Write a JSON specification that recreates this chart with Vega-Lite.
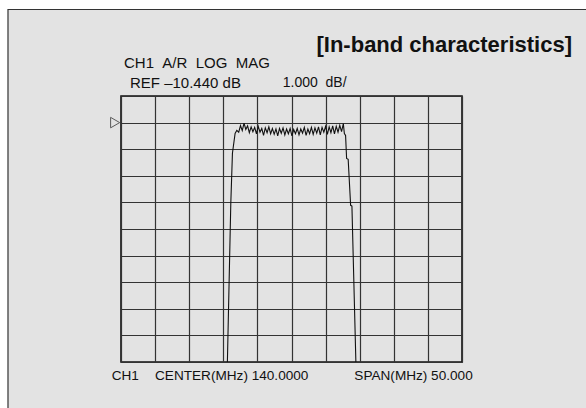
{
  "$schema": "https://vega.github.io/schema/vega-lite/v6.json",
  "width": 341,
  "height": 266,
  "autosize": {"type": "none"},
  "padding": {"left": 121, "top": 96, "right": 124, "bottom": 46},
  "background": "#e3e3e3",
  "view": {"stroke": "#111", "strokeWidth": 1.6},
  "config": {"font": "Liberation Sans"},
  "resolve": {"axis": {"x": "independent", "y": "independent"}},
  "layer": [
    {
      "data": {"values": [
        {"f": 130.60, "dB": -19.44},
        {"f": 131.10, "dB": -13.47},
        {"f": 131.34, "dB": -11.59},
        {"f": 131.73, "dB": -10.85},
        {"f": 131.98, "dB": -10.73},
        {"f": 132.26, "dB": -10.80},
        {"f": 132.52, "dB": -10.55},
        {"f": 132.78, "dB": -10.74},
        {"f": 133.04, "dB": -10.46},
        {"f": 133.30, "dB": -10.70},
        {"f": 133.56, "dB": -10.56},
        {"f": 133.82, "dB": -10.82},
        {"f": 134.08, "dB": -10.60},
        {"f": 134.34, "dB": -10.78},
        {"f": 134.60, "dB": -10.62},
        {"f": 134.86, "dB": -10.86},
        {"f": 135.12, "dB": -10.58},
        {"f": 135.38, "dB": -10.80},
        {"f": 135.64, "dB": -10.66},
        {"f": 135.90, "dB": -10.92},
        {"f": 136.16, "dB": -10.64},
        {"f": 136.42, "dB": -10.82},
        {"f": 136.68, "dB": -10.60},
        {"f": 136.94, "dB": -10.86},
        {"f": 137.20, "dB": -10.66},
        {"f": 137.46, "dB": -10.88},
        {"f": 137.72, "dB": -10.68},
        {"f": 137.98, "dB": -10.94},
        {"f": 138.24, "dB": -10.66},
        {"f": 138.50, "dB": -10.84},
        {"f": 138.76, "dB": -10.64},
        {"f": 139.02, "dB": -10.90},
        {"f": 139.28, "dB": -10.68},
        {"f": 139.54, "dB": -10.86},
        {"f": 139.80, "dB": -10.66},
        {"f": 140.06, "dB": -10.94},
        {"f": 140.32, "dB": -10.70},
        {"f": 140.58, "dB": -10.86},
        {"f": 140.84, "dB": -10.66},
        {"f": 141.10, "dB": -10.90},
        {"f": 141.36, "dB": -10.68},
        {"f": 141.62, "dB": -10.84},
        {"f": 141.88, "dB": -10.62},
        {"f": 142.14, "dB": -10.92},
        {"f": 142.40, "dB": -10.68},
        {"f": 142.66, "dB": -10.86},
        {"f": 142.92, "dB": -10.62},
        {"f": 143.18, "dB": -10.88},
        {"f": 143.44, "dB": -10.64},
        {"f": 143.70, "dB": -10.84},
        {"f": 143.96, "dB": -10.60},
        {"f": 144.22, "dB": -10.90},
        {"f": 144.48, "dB": -10.62},
        {"f": 144.74, "dB": -10.80},
        {"f": 145.00, "dB": -10.58},
        {"f": 145.26, "dB": -10.88},
        {"f": 145.52, "dB": -10.60},
        {"f": 145.78, "dB": -10.82},
        {"f": 146.04, "dB": -10.56},
        {"f": 146.30, "dB": -10.86},
        {"f": 146.56, "dB": -10.58},
        {"f": 146.82, "dB": -10.80},
        {"f": 147.08, "dB": -10.54},
        {"f": 147.34, "dB": -10.78},
        {"f": 147.60, "dB": -10.48},
        {"f": 147.75, "dB": -10.85},
        {"f": 147.93, "dB": -10.92},
        {"f": 148.08, "dB": -11.79},
        {"f": 148.31, "dB": -11.82},
        {"f": 148.67, "dB": -13.55},
        {"f": 148.86, "dB": -13.58},
        {"f": 149.44, "dB": -19.44}
      ]},
      "mark": {"type": "line", "color": "#111", "strokeWidth": 1.1, "clip": true},
      "encoding": {
        "x": {
          "field": "f", "type": "quantitative",
          "scale": {"domain": [115, 165], "nice": false, "zero": false},
          "axis": {"values": [115, 120, 125, 130, 135, 140, 145, 150, 155, 160, 165], "grid": true, "labels": false, "ticks": false, "domain": false, "title": null, "gridColor": "#333", "gridWidth": 1.2, "gridOpacity": 1}
        },
        "y": {
          "field": "dB", "type": "quantitative",
          "scale": {"domain": [-19.44, -9.44], "nice": false, "zero": false},
          "axis": {"values": [-19.44, -18.44, -17.44, -16.44, -15.44, -14.44, -13.44, -12.44, -11.44, -10.44, -9.44], "grid": true, "labels": false, "ticks": false, "domain": false, "title": null, "gridColor": "#333", "gridWidth": 1.2, "gridOpacity": 1}
        }
      }
    },
    {
      "data": {"values": [{}]},
      "mark": {"type": "rect", "fill": "white", "stroke": null},
      "encoding": {
        "x": {"datum": 96, "type": "quantitative", "axis": null},
        "x2": {"datum": 98.43},
        "y": {"datum": -5, "type": "quantitative", "axis": null},
        "y2": {"datum": -22}
      }
    },
    {
      "data": {"values": [{}]},
      "mark": {"type": "rect", "fill": "white", "stroke": null},
      "encoding": {
        "x": {"datum": 96, "type": "quantitative", "axis": null},
        "x2": {"datum": 190},
        "y": {"datum": -5, "type": "quantitative", "axis": null},
        "y2": {"datum": -6.188}
      }
    },
    {
      "data": {"values": [{}]},
      "mark": {"type": "rect", "fill": null, "fillOpacity": 0, "stroke": "#333", "strokeWidth": 1.2},
      "encoding": {
        "x": {"datum": 98.43, "type": "quantitative", "axis": null},
        "x2": {"datum": 185.2},
        "y": {"datum": -6.188, "type": "quantitative", "axis": null},
        "y2": {"datum": -21.62}
      }
    },
    {
      "data": {"values": [{}]},
      "mark": {"type": "point", "shape": "triangle-right", "filled": false, "stroke": "#222", "strokeWidth": 1, "size": 110},
      "encoding": {
        "x": {"datum": 114.14, "type": "quantitative", "axis": null},
        "y": {"datum": -10.44, "type": "quantitative", "axis": null}
      }
    },
    {
      "data": {"values": [{"label": "[In-band characteristics]"}]},
      "mark": {"type": "text", "align": "right", "baseline": "middle", "fontSize": 22, "fontWeight": "bold", "color": "#111"},
      "encoding": {
        "x": {"datum": 181.13, "type": "quantitative", "axis": null},
        "y": {"datum": -7.523, "type": "quantitative", "axis": null},
        "text": {"field": "label"}
      }
    },
    {
      "data": {"values": [{"label": "CH1\u00a0\u00a0A/R\u00a0\u00a0LOG\u00a0\u00a0MAG"}]},
      "mark": {"type": "text", "align": "left", "baseline": "middle", "fontSize": 15, "color": "#111"},
      "encoding": {
        "x": {"datum": 115.44, "type": "quantitative", "axis": null},
        "y": {"datum": -8.211, "type": "quantitative", "axis": null},
        "text": {"field": "label"}
      }
    },
    {
      "data": {"values": [{"label": "REF \u201310.440 dB"}]},
      "mark": {"type": "text", "align": "left", "baseline": "middle", "fontSize": 15, "color": "#111"},
      "encoding": {
        "x": {"datum": 116.32, "type": "quantitative", "axis": null},
        "y": {"datum": -8.963, "type": "quantitative", "axis": null},
        "text": {"field": "label"}
      }
    },
    {
      "data": {"values": [{"label": "1.000\u00a0\u00a0dB/"}]},
      "mark": {"type": "text", "align": "left", "baseline": "middle", "fontSize": 14, "color": "#111"},
      "encoding": {
        "x": {"datum": 138.71, "type": "quantitative", "axis": null},
        "y": {"datum": -8.963, "type": "quantitative", "axis": null},
        "text": {"field": "label"}
      }
    },
    {
      "data": {"values": [{"label": "CH1"}]},
      "mark": {"type": "text", "align": "left", "baseline": "middle", "fontSize": 13.6, "color": "#111"},
      "encoding": {
        "x": {"datum": 113.64, "type": "quantitative", "axis": null},
        "y": {"datum": -19.955, "type": "quantitative", "axis": null},
        "text": {"field": "label"}
      }
    },
    {
      "data": {"values": [{"label": "CENTER(MHz) 140.0000"}]},
      "mark": {"type": "text", "align": "left", "baseline": "middle", "fontSize": 13.6, "color": "#111"},
      "encoding": {
        "x": {"datum": 119.99, "type": "quantitative", "axis": null},
        "y": {"datum": -19.955, "type": "quantitative", "axis": null},
        "text": {"field": "label"}
      }
    },
    {
      "data": {"values": [{"label": "SPAN(MHz) 50.000"}]},
      "mark": {"type": "text", "align": "right", "baseline": "middle", "fontSize": 13.6, "color": "#111"},
      "encoding": {
        "x": {"datum": 166.57, "type": "quantitative", "axis": null},
        "y": {"datum": -19.955, "type": "quantitative", "axis": null},
        "text": {"field": "label"}
      }
    }
  ]
}
